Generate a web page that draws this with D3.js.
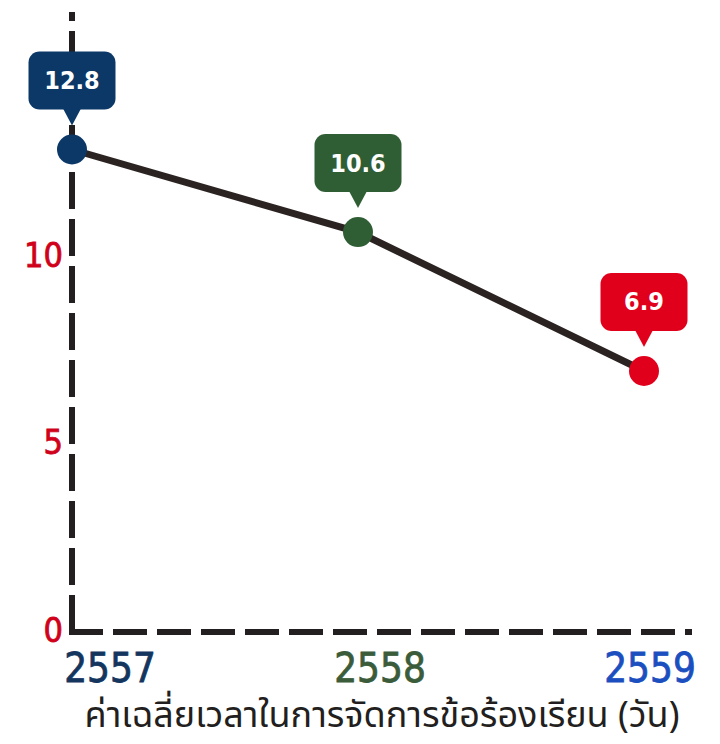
<!DOCTYPE html>
<html>
<head>
<meta charset="utf-8">
<script src="https://cdn.jsdelivr.net/npm/d3@7"></script>
<style>
  body { margin: 0; background: #fff; }
</style>
</head>
<body>
<div id="chart"></div>
<script>
const years = ["2557", "2558", "2559"];
const values = [12.8, 10.6, 6.9];
const pointColors = ["#0c3868", "#2f5e34", "#e1001c"];
const yearColors = ["#14365e", "#3a5c3a", "#1b4fbf"];
const yTicks = [0, 5, 10];
const title = "ค่าเฉลี่ยเวลาในการจัดการข้อร้องเรียน (วัน)";

const width = 720;
const height = 744;
const numFont = "'DejaVu Sans Condensed', 'Liberation Sans Narrow', sans-serif";

const svg = d3.select("#chart")
  .append("svg")
  .attr("width", width)
  .attr("height", height)
  .attr("viewBox", [0, 0, width, height]);

const x = d3.scalePoint().domain(years).range([72, 644]);
const y = d3.scaleLinear().domain([0, 13]).range([630, 142]);
const xLabel = d3.scalePoint().domain(years).range([110, 650]);

const data = years.map((yr, i) => ({ year: yr, value: values[i], color: pointColors[i], labelColor: yearColors[i] }));

// axes (dashed, solid corner)
svg.append("line")
  .attr("x1", 72).attr("y1", 632)
  .attr("x2", 72).attr("y2", 12)
  .attr("stroke", "#231f20")
  .attr("stroke-width", 6)
  .attr("stroke-dasharray", "37 10");

svg.append("line")
  .attr("x1", 69).attr("y1", 632)
  .attr("x2", 692).attr("y2", 632)
  .attr("stroke", "#231f20")
  .attr("stroke-width", 6)
  .attr("stroke-dasharray", "34 10");

// y tick labels
svg.selectAll(".ytick")
  .data(yTicks)
  .join("text")
  .attr("class", "ytick")
  .attr("x", 63)
  .attr("y", d => y(d))
  .attr("text-anchor", "end")
  .attr("dominant-baseline", "central")
  .attr("fill", "#d0021b")
  .attr("font-family", numFont)
  .attr("font-size", 34)
  .attr("stroke", "#d0021b")
  .attr("stroke-width", 0.8)
  .text(d => d);

// line
const line = d3.line().x(d => x(d.year)).y(d => y(d.value));
svg.append("path")
  .datum(data)
  .attr("d", line)
  .attr("fill", "none")
  .attr("stroke", "#2b2321")
  .attr("stroke-width", 7);

// dots
svg.selectAll(".dot")
  .data(data)
  .join("circle")
  .attr("class", "dot")
  .attr("cx", d => x(d.year))
  .attr("cy", d => y(d.value))
  .attr("r", 15)
  .attr("fill", d => d.color);

// callouts
const bw = 87, bh = 58, r = 11;
const callout = svg.selectAll(".callout")
  .data(data)
  .join("g")
  .attr("class", "callout")
  .attr("transform", d => `translate(${x(d.year)}, ${y(d.value)})`);

callout.append("rect")
  .attr("x", -bw / 2)
  .attr("y", -40 - bh)
  .attr("width", bw)
  .attr("height", bh)
  .attr("rx", r)
  .attr("fill", d => d.color);

callout.append("path")
  .attr("d", "M-9,-41 L9,-41 L0,-24 Z")
  .attr("fill", d => d.color);

callout.append("text")
  .attr("x", 0)
  .attr("y", -40 - bh / 2)
  .attr("text-anchor", "middle")
  .attr("dominant-baseline", "central")
  .attr("fill", "#fff")
  .attr("font-family", numFont)
  .attr("font-weight", "bold")
  .attr("font-size", 25)
  .text(d => d.value.toFixed(1));

// year labels
svg.selectAll(".xlabel")
  .data(data)
  .join("text")
  .attr("class", "xlabel")
  .attr("x", d => xLabel(d.year))
  .attr("y", 668)
  .attr("text-anchor", "middle")
  .attr("dominant-baseline", "central")
  .attr("fill", d => d.labelColor)
  .attr("stroke", d => d.labelColor)
  .attr("stroke-width", 0.8)
  .attr("font-family", numFont)
  .attr("font-size", 40)
  .text(d => d.year);

// title
svg.append("text")
  .attr("x", 382)
  .attr("y", 716)
  .attr("text-anchor", "middle")
  .attr("dominant-baseline", "central")
  .attr("fill", "#231f20")
  .attr("font-family", "'Noto Sans Thai', 'Noto Sans', 'DejaVu Sans', sans-serif")
  .attr("font-size", 36)
  .text(title);
</script>
</body>
</html>
